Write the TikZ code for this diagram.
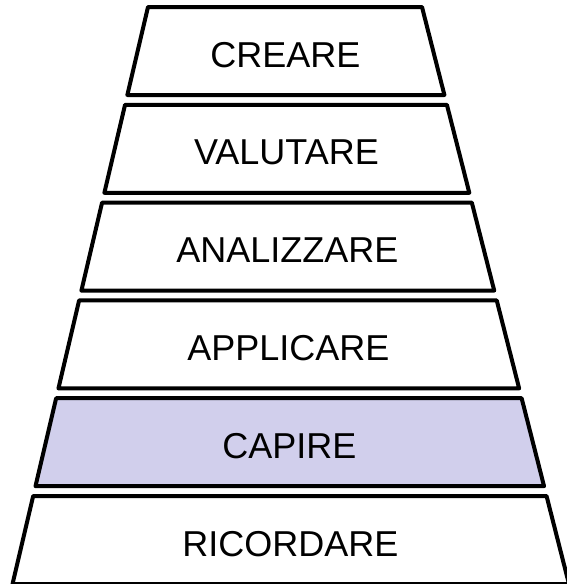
\documentclass[tikz,border=0pt]{standalone}
\usepackage{fontspec}
\setmainfont{Liberation Sans}
\definecolor{lavender}{RGB}{209,207,236}
\begin{document}
\begin{tikzpicture}[x=1pt, y=-1pt,
  levelbox/.style={draw=black, line width=4pt, line join=round},
  leveltext/.style={anchor=base, inner sep=0pt, font=\fontsize{36}{40}\selectfont}]
\useasboundingbox (0,0) rectangle (566,584);
% Stacked trapezoids; sides follow two common lines
% left side:  x = 148 - 0.2348 (y - 7)
% right side: x = 422 + 0.2547 (y - 7)
\foreach \i/\lbl/\nm/\fc in {0/CREARE/creare/white,
                              1/VALUTARE/valutare/white,
                              2/ANALIZZARE/analizzare/white,
                              3/APPLICARE/applicare/white,
                              4/CAPIRE/capire/lavender,
                              5/RICORDARE/ricordare/white} {
  \pgfmathsetmacro\yt{7+97.8*\i}
  \pgfmathsetmacro\yb{\yt+88}
  \pgfmathsetmacro\xtl{148-0.2348*(\yt-7)}
  \pgfmathsetmacro\xbl{148-0.2348*(\yb-7)}
  \pgfmathsetmacro\xtr{422+0.2547*(\yt-7)}
  \pgfmathsetmacro\xbr{422+0.2547*(\yb-7)}
  \pgfmathsetmacro\xm{(\xtl+\xbl+\xtr+\xbr)/4}
  \pgfmathsetmacro\ym{(\yt+\yb)/2+16}
  \draw[levelbox, fill=\fc] (\xtl,\yt) -- (\xtr,\yt) -- (\xbr,\yb) -- (\xbl,\yb) -- cycle;
  \node[leveltext] (\nm) at (\xm,\ym) {\lbl};
}
\end{tikzpicture}
\end{document}
